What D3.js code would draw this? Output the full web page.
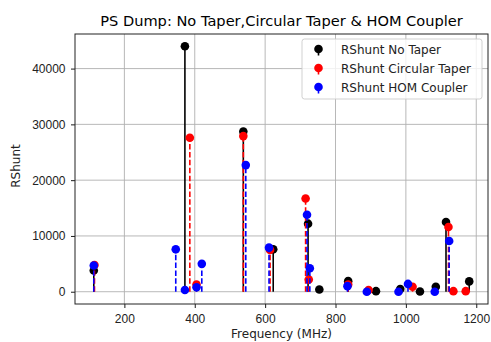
<!DOCTYPE html>
<html>
<head>
<meta charset="utf-8">
<script src="https://cdn.jsdelivr.net/npm/d3@7"></script>
<style>
  body { margin: 0; background: #fff; }
  svg { font-family: "DejaVu Sans", sans-serif; }
</style>
</head>
<body>
<svg id="chart" width="491" height="342"></svg>
<script>
// stem data
const noTaperFreq = [113, 372, 538, 623, 722, 754, 836, 915, 984, 1040, 1085, 1114, 1180];
const noTaperVal  = [3800, 44000, 28700, 7600, 12200, 400, 1900, 100, 500, 50, 900, 12500, 1850];

const circFreq = [115, 386, 405, 538, 614, 715, 724, 836, 894, 1019, 1121, 1135, 1170];
const circVal  = [4800, 27600, 1300, 27900, 7500, 16700, 2200, 1300, 300, 900, 11600, 100, 100];

const homFreq = [113, 346, 372, 405, 420, 545, 611, 719, 727, 834, 889, 979, 1006, 1082, 1123];
const homVal  = [4700, 7600, 300, 800, 5000, 22700, 7900, 13800, 4200, 1000, 0, 0, 1400, 0, 9100];

const xTicks = [200, 400, 600, 800, 1000, 1200];
const yTicks = [0, 10000, 20000, 30000, 40000];

const series = [
  {name: "RShunt No Taper", freq: noTaperFreq, val: noTaperVal, color: "#000000", dash: null},
  {name: "RShunt Circular Taper", freq: circFreq, val: circVal, color: "#ff0000", dash: "5.5,2.4"},
  {name: "RShunt HOM Coupler", freq: homFreq, val: homVal, color: "#0000ff", dash: "5.5,2.4"}
];

const svg = d3.select("#chart");
const mLeft = 75, mRight = 488, mTop = 34, mBottom = 304;

let allF = series.flatMap(s => s.freq);
let allV = series.flatMap(s => s.val);
let fMin = d3.min(allF), fMax = d3.max(allF);
let vMin = 0, vMax = d3.max(allV);
let padF = (fMax - fMin) * 0.05, padV = (vMax - vMin) * 0.05;

let x = d3.scaleLinear().domain([fMin - padF, fMax + padF]).range([mLeft, mRight]);
let y = d3.scaleLinear().domain([vMin - padV, vMax + padV]).range([mBottom, mTop]);

// grid
svg.append("g").selectAll("line").data(xTicks).enter().append("line")
  .attr("x1", d => x(d)).attr("x2", d => x(d))
  .attr("y1", mTop).attr("y2", mBottom)
  .attr("stroke", "#b0b0b0").attr("stroke-width", 0.9);
svg.append("g").selectAll("line").data(yTicks).enter().append("line")
  .attr("x1", mLeft).attr("x2", mRight)
  .attr("y1", d => y(d)).attr("y2", d => y(d))
  .attr("stroke", "#b0b0b0").attr("stroke-width", 0.9);

// stems
series.forEach(s => {
  let pts = s.freq.map((f, i) => ({f: f, v: s.val[i]}));
  let g = svg.append("g");
  g.selectAll("line").data(pts).enter().append("line")
    .attr("x1", d => x(d.f)).attr("x2", d => x(d.f))
    .attr("y1", y(0)).attr("y2", d => y(d.v))
    .attr("stroke", s.color).attr("stroke-width", 1.6)
    .attr("stroke-dasharray", s.dash);
  g.selectAll("circle").data(pts).enter().append("circle")
    .attr("cx", d => x(d.f)).attr("cy", d => y(d.v))
    .attr("r", 4.3).attr("fill", s.color);
});

// axes
let xAxis = d3.axisBottom(x).tickValues(xTicks).tickSize(4).tickPadding(6).tickFormat(d3.format("d"));
let yAxis = d3.axisLeft(y).tickValues(yTicks).tickSize(4).tickPadding(5.5).tickFormat(d3.format("d"));

svg.append("g").attr("transform", `translate(0,${mBottom})`).call(xAxis)
  .call(g => g.select(".domain").remove())
  .call(g => g.selectAll("line").attr("stroke-width", 0.9))
  .selectAll("text").attr("font-size", 12).attr("fill", "#222");
svg.append("g").attr("transform", `translate(${mLeft},0)`).call(yAxis)
  .call(g => g.select(".domain").remove())
  .call(g => g.selectAll("line").attr("stroke-width", 0.9))
  .selectAll("text").attr("font-size", 12).attr("fill", "#222");

svg.append("rect")
  .attr("x", mLeft).attr("y", mTop)
  .attr("width", mRight - mLeft).attr("height", mBottom - mTop)
  .attr("fill", "none").attr("stroke", "#222").attr("stroke-width", 1);

// labels
svg.append("text").attr("x", (mLeft + mRight) / 2).attr("y", 25.5)
  .attr("text-anchor", "middle").attr("font-size", 14.6)
  .text("PS Dump: No Taper,Circular Taper & HOM Coupler");
svg.append("text").attr("x", (mLeft + mRight) / 2).attr("y", 337.5)
  .attr("text-anchor", "middle").attr("font-size", 12).attr("fill", "#222")
  .text("Frequency (MHz)");
svg.append("text").attr("transform", `translate(19.5,166) rotate(-90)`)
  .attr("text-anchor", "middle").attr("font-size", 12).attr("fill", "#222")
  .text("RShunt");

// legend
let lg = svg.append("g").attr("transform", "translate(302,39)");
lg.append("rect").attr("width", 180).attr("height", 60).attr("rx", 2.5)
  .attr("fill", "#fff").attr("fill-opacity", 0.8)
  .attr("stroke", "#cccccc").attr("stroke-width", 0.9);
series.forEach((s, i) => {
  let cy = 10 + i * 19;
  lg.append("line").attr("x1", 16.5).attr("x2", 16.5).attr("y1", cy).attr("y2", cy + 6.5)
    .attr("stroke", s.color).attr("stroke-width", 1.6);
  lg.append("circle").attr("cx", 16.5).attr("cy", cy).attr("r", 4.3).attr("fill", s.color);
  lg.append("text").attr("x", 39).attr("y", cy + 4.5).attr("font-size", 12).attr("fill", "#222").text(s.name);
});
</script>
</body>
</html>
